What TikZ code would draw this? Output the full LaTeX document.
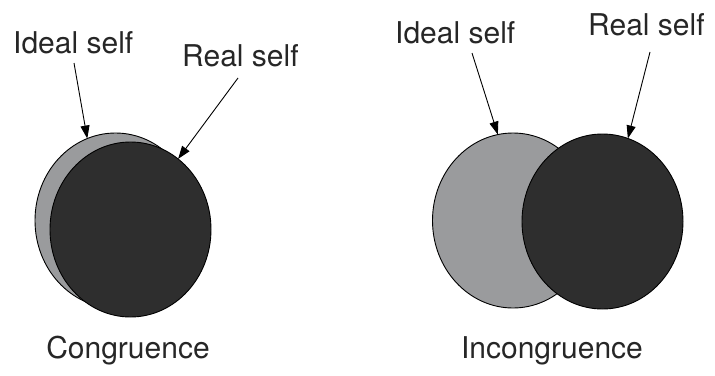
\documentclass[tikz,border=0pt]{standalone}
\usepackage{fontspec}
\setmainfont{TeX Gyre Heros}
\usetikzlibrary{arrows.meta,shapes.geometric}

\begin{document}
\begin{tikzpicture}[x=1pt,y=-1pt,
  self/.style={ellipse,draw=black,line width=0.9pt,inner sep=0pt,outer sep=0pt,
    minimum width=161pt,minimum height=175pt},
  ideal/.style={self,fill=idealgray},
  real/.style={self,fill=realblack},
  lbl/.style={inner sep=0pt,font=\fontsize{30}{36}\selectfont,text=black!85},
  pointer/.style={line width=0.9pt,-{Triangle[length=13pt,width=9pt]}}]
\definecolor{idealgray}{HTML}{9A9B9D}
\definecolor{realblack}{HTML}{2E2E2E}
\useasboundingbox (0,0) rectangle (715,375);

% congruence
\node[ideal] (I1) at (115.5,220.5) {};
\node[real] (R1) at (130.5,229.5) {};
\node[lbl,anchor=base west] (ti1) at (13,53) {Ideal self};
\node[lbl,anchor=base west] (tr1) at (182,66) {Real self};
\node[lbl,anchor=base] (c1) at (128,358) {Congruence};
\coordinate (si1) at (74,63);
\coordinate (sr1) at (238,78);
\draw[pointer] (si1) -- (I1.109);
\draw[pointer] (sr1) -- (R1.56);

% incongruence
\node[ideal] (I2) at (513,220.5) {};
\node[real] (R2) at (602.5,221.5) {};
\node[lbl,anchor=base west] (ti2) at (395,43) {Ideal self};
\node[lbl,anchor=base west] (tr2) at (588,35) {Real self};
\node[lbl,anchor=base] (c2) at (552,358) {Incongruence};
\coordinate (si2) at (472,53);
\coordinate (sr2) at (650,52);
\draw[pointer] (si2) -- (I2.100);
\draw[pointer] (sr2) -- (R2.73);

\end{tikzpicture}
\end{document}
